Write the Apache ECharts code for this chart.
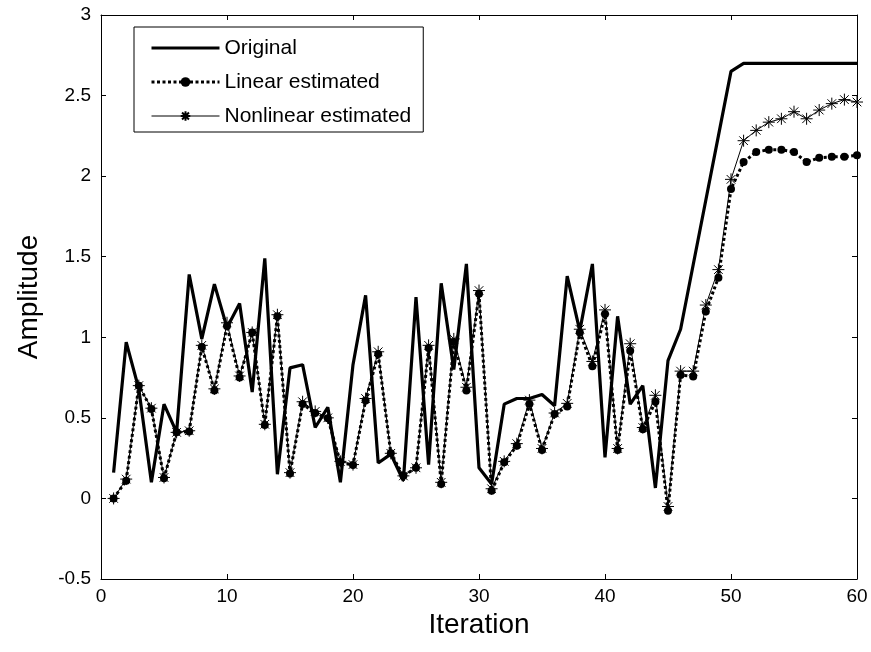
<!DOCTYPE html>
<html>
<head>
<meta charset="utf-8">
<script src="https://cdn.jsdelivr.net/npm/echarts@6/dist/echarts.min.js"></script>
<style>html,body{margin:0;padding:0;background:#fff}#c{width:871px;height:652px}</style>
</head>
<body>
<div id="c"></div>
<script>
const iterations = [1,2,3,4,5,6,7,8,9,10,11,12,13,14,15,16,17,18,19,20,21,22,23,24,25,26,27,28,29,30,31,32,33,34,35,36,37,38,39,40,41,42,43,44,45,46,47,48,49,50,51,52,53,54,55,56,57,58,59,60];
const original = [0.16,0.97,0.68,0.10,0.585,0.41,1.39,0.99,1.33,1.06,1.21,0.66,1.49,0.15,0.81,0.83,0.44,0.565,0.10,0.83,1.26,0.22,0.275,0.11,1.25,0.21,1.335,0.80,1.455,0.19,0.09,0.585,0.62,0.62,0.645,0.575,1.38,1.04,1.455,0.255,1.13,0.585,0.70,0.065,0.855,1.05,1.45,1.85,2.25,2.65,2.70,2.70,2.70,2.70,2.70,2.70,2.70,2.70,2.70,2.70];
const linearEst = [0.00,0.11,0.70,0.555,0.125,0.41,0.415,0.94,0.67,1.07,0.75,1.03,0.456,1.13,0.155,0.586,0.53,0.497,0.224,0.207,0.607,0.897,0.28,0.14,0.19,0.934,0.09,0.97,0.67,1.27,0.048,0.224,0.327,0.586,0.30,0.524,0.57,1.03,0.82,1.145,0.30,0.917,0.43,0.60,-0.076,0.766,0.756,1.16,1.37,1.92,2.087,2.15,2.164,2.164,2.15,2.087,2.114,2.12,2.12,2.13];
const nonlinearEst = [0.00,0.12,0.70,0.56,0.13,0.41,0.42,0.95,0.68,1.09,0.76,1.03,0.46,1.14,0.16,0.60,0.54,0.50,0.23,0.21,0.62,0.91,0.28,0.14,0.19,0.95,0.10,0.99,0.69,1.29,0.06,0.23,0.34,0.61,0.31,0.53,0.59,1.05,0.85,1.17,0.31,0.96,0.44,0.64,-0.05,0.79,0.79,1.20,1.42,1.98,2.22,2.284,2.335,2.356,2.40,2.356,2.41,2.45,2.475,2.46];
const xTicks = {min: 0, max: 60, interval: 10};
const yTicks = {min: -0.5, max: 3, interval: 0.5};

const pair = (ys) => iterations.map((x, i) => [x, ys[i]]);
const FONT = 'Liberation Sans, Arial, sans-serif';
const star = 'path://M5,0L5,10M0,5L10,5M1.4,1.4L8.6,8.6M1.4,8.6L8.6,1.4';

const chart = echarts.init(document.getElementById('c'), null, {renderer: 'canvas'});
const axisCommon = {
  axisLine: {show: true, onZero: false, lineStyle: {color: '#000', width: 1}},
  axisTick: {show: true, inside: true, length: 5, lineStyle: {color: '#000'}},
  splitLine: {show: false}
};
chart.setOption({
  animation: false,
  backgroundColor: '#fff',
  grid: {left: 101, right: 14, top: 15, bottom: 73, containLabel: false},
  legend: {
    data: [
      {name: 'Original', icon: 'path://M0,0L68,0L68,3.2L0,3.2Z', itemStyle: {color: '#000'}},
      {name: 'Linear estimated', lineStyle: {width: 3, type: [3, 2.5], color: '#000'}},
      {name: 'Nonlinear estimated', lineStyle: {width: 1, color: '#000'}}
    ],
    orient: 'vertical', left: 134, top: 27,
    padding: [10, 12, 5, 16],
    itemWidth: 68, itemHeight: 12, itemGap: 12, itemTextGap: 8,
    borderColor: '#000', borderWidth: 1, borderRadius: 0,
    backgroundColor: '#fff',
    textStyle: {fontFamily: FONT, fontSize: 21, color: '#000', lineHeight: 22}
  },
  xAxis: [
    Object.assign({type: 'value', position: 'bottom', min: xTicks.min, max: xTicks.max, interval: xTicks.interval,
      name: 'Iteration', nameLocation: 'middle', nameGap: 29,
      nameTextStyle: {fontFamily: FONT, fontSize: 28, color: '#000'},
      axisLabel: {fontFamily: FONT, fontSize: 19, color: '#000', margin: 8}}, axisCommon),
    Object.assign({type: 'value', position: 'top', min: xTicks.min, max: xTicks.max, interval: xTicks.interval,
      axisLabel: {show: false}}, axisCommon)
  ],
  yAxis: [
    Object.assign({type: 'value', position: 'left', min: yTicks.min, max: yTicks.max, interval: yTicks.interval,
      name: 'Amplitude', nameLocation: 'middle', nameGap: 58,
      nameTextStyle: {fontFamily: FONT, fontSize: 28, color: '#000'},
      axisLabel: {fontFamily: FONT, fontSize: 19, color: '#000', margin: 10}}, axisCommon),
    Object.assign({type: 'value', position: 'right', min: yTicks.min, max: yTicks.max, interval: yTicks.interval,
      axisLabel: {show: false}}, axisCommon)
  ],
  series: [
    {name: 'Original', type: 'line', data: pair(original), symbol: 'none', showSymbol: false,
      lineStyle: {color: '#000', width: 3.2}, itemStyle: {color: '#000'}, z: 2},
    {name: 'Nonlinear estimated', type: 'line', data: pair(nonlinearEst), symbol: star, symbolSize: 12,
      lineStyle: {color: '#000', width: 1}, itemStyle: {color: 'rgba(0,0,0,0)', borderColor: '#000', borderWidth: 1}, z: 3},
    {name: 'Linear estimated', type: 'line', data: pair(linearEst), symbol: 'circle', symbolSize: 8,
      lineStyle: {color: '#000', width: 3, type: [3, 2.5]}, itemStyle: {color: '#000'}, z: 4}
  ]
});
</script>
</body>
</html>
